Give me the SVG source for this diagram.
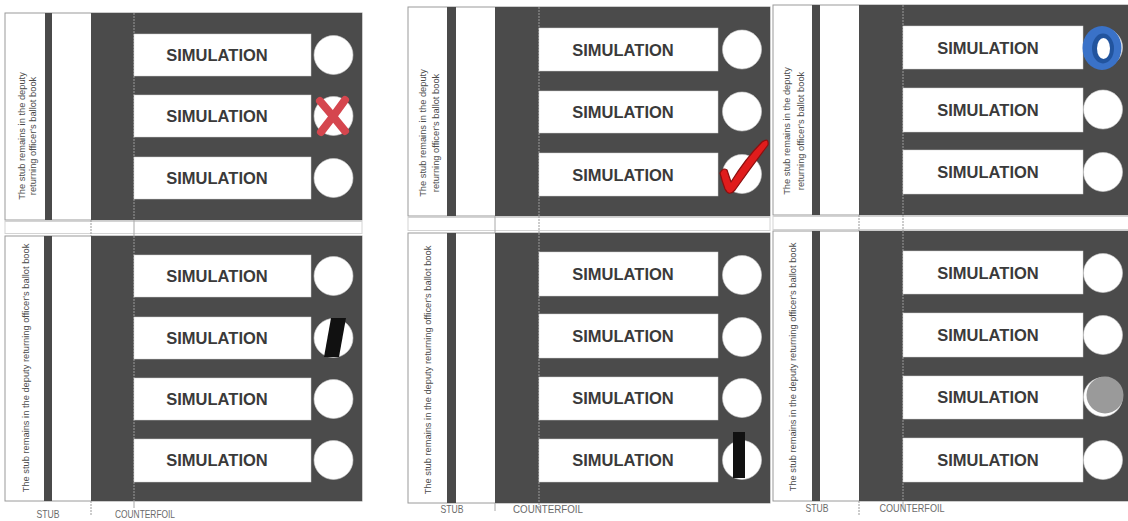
<svg xmlns="http://www.w3.org/2000/svg" width="1128" height="521" viewBox="0 0 1128 521">
<style>
.bg{fill:#ffffff}
.frame{fill:#ffffff;stroke:#9a9a9a;stroke-width:1}
.stripe{fill:#4a4a4a}
.dark{fill:#4b4b4b}
.box{fill:#ffffff;stroke:#d0d0d0;stroke-width:0.5}
.circ{fill:#ffffff;stroke:#cfcfcf;stroke-width:0.6}
.sim{font-family:"Liberation Sans",Arial,sans-serif;font-weight:bold;font-size:16.5px;fill:#3a3a3a;text-anchor:middle}
.stubtxt{font-family:"Liberation Sans",Arial,sans-serif;font-size:9.3px;fill:#4a4a4a;text-anchor:middle}
.lbl{font-family:"Liberation Sans Narrow","Liberation Sans",Arial,sans-serif;font-size:11px;fill:#6a6a6a;text-anchor:middle}
.dash{stroke:#9a9a9a;stroke-width:1;stroke-dasharray:2 1;fill:none}
.sep{stroke:#a8a8a8;stroke-width:1;fill:none}
.gap{fill:#ffffff;stroke:#d4d4d4;stroke-width:1}
</style>
<rect class="bg" x="0" y="0" width="1128" height="521"/>

<!-- ===== LEFT PANEL ===== -->
<g id="left-top">
  <rect class="frame" x="5" y="13" width="357" height="207"/>
  <rect class="stripe" x="45" y="13" width="7" height="207"/>
  <rect class="dark" x="91" y="13" width="271" height="207"/>
  <line class="dash" x1="134" y1="13" x2="134" y2="220" stroke="#8a8a8a"/>
  <text class="stubtxt" transform="translate(24.5,136) rotate(-90)">The stub remains in the deputy</text>
  <text class="stubtxt" transform="translate(35.5,136) rotate(-90)">returning officer's ballot book</text>
  <rect class="box" x="134" y="34" width="177" height="42"/>
  <rect class="box" x="134" y="95" width="177" height="42"/>
  <rect class="box" x="134" y="157" width="177" height="42"/>
  <text class="sim" x="217" y="61">SIMULATION</text>
  <text class="sim" x="217" y="122">SIMULATION</text>
  <text class="sim" x="217" y="184">SIMULATION</text>
  <circle class="circ" cx="333.5" cy="55" r="19.5"/>
  <circle class="circ" cx="333.5" cy="116" r="19.5"/>
  <circle class="circ" cx="333.5" cy="178" r="19.5"/>
  <g id="mark-x" stroke="#d5464e" stroke-width="8" stroke-linecap="round" fill="none">
    <path d="M320 101 Q333 116 345 131"/>
    <path d="M345 100 Q333 117 321 132"/>
  </g>
</g>
<g id="left-gap">
  <rect class="gap" x="5" y="221.5" width="357" height="12"/>
  <line class="dash" x1="91" y1="220" x2="91" y2="236" stroke="#777"/>
  <line class="sep" x1="134" y1="220" x2="134" y2="236"/>
</g>
<g id="left-bottom">
  <rect class="frame" x="5" y="236" width="357" height="265"/>
  <rect class="stripe" x="44" y="236" width="8" height="265"/>
  <rect class="dark" x="91" y="236" width="271" height="265"/>
  <line class="dash" x1="134" y1="236" x2="134" y2="501" stroke="#8a8a8a"/>
  <text class="stubtxt" transform="translate(28.5,368) rotate(-90)" font-size="9.6">The stub remains in the deputy returning officer's ballot book</text>
  <rect class="box" x="134" y="255" width="177" height="42"/>
  <rect class="box" x="134" y="317" width="177" height="42"/>
  <rect class="box" x="134" y="378" width="177" height="42"/>
  <rect class="box" x="134" y="439" width="177" height="43"/>
  <text class="sim" x="217" y="282">SIMULATION</text>
  <text class="sim" x="217" y="344">SIMULATION</text>
  <text class="sim" x="217" y="405">SIMULATION</text>
  <text class="sim" x="217" y="466">SIMULATION</text>
  <circle class="circ" cx="333.5" cy="276" r="19.5"/>
  <circle class="circ" cx="333.5" cy="338" r="19.5"/>
  <circle class="circ" cx="333.5" cy="399" r="19.5"/>
  <circle class="circ" cx="333.5" cy="460" r="19.5"/>
  <polygon id="mark-slash" points="331,318 346,318 339,357 324,357" fill="#111"/>
</g>
<g id="left-labels">
  <text class="lbl" x="48" y="518" textLength="23" lengthAdjust="spacingAndGlyphs">STUB</text>
  <text class="lbl" x="145" y="518" textLength="60" lengthAdjust="spacingAndGlyphs">COUNTERFOIL</text>
  <line class="dash" x1="91" y1="501" x2="91" y2="516" stroke="#666"/>
  <line class="sep" x1="134" y1="501" x2="134" y2="508"/>
</g>

<!-- ===== MIDDLE PANEL ===== -->
<g id="middle-top">
  <rect class="frame" x="408" y="7" width="362" height="209"/>
  <rect class="stripe" x="447" y="7" width="9" height="209"/>
  <rect class="dark" x="495" y="7" width="275" height="209"/>
  <line class="dash" x1="539" y1="7" x2="539" y2="216" stroke="#8a8a8a"/>
  <text class="stubtxt" transform="translate(426,133) rotate(-90)">The stub remains in the deputy</text>
  <text class="stubtxt" transform="translate(439,133) rotate(-90)">returning officer's ballot book</text>
  <rect class="box" x="539" y="28" width="179" height="43"/>
  <rect class="box" x="539" y="91" width="179" height="42"/>
  <rect class="box" x="539" y="153" width="179" height="43"/>
  <text class="sim" x="623" y="56">SIMULATION</text>
  <text class="sim" x="623" y="118">SIMULATION</text>
  <text class="sim" x="623" y="181">SIMULATION</text>
  <circle class="circ" cx="742" cy="49.5" r="19.5"/>
  <circle class="circ" cx="742" cy="111.5" r="19.5"/>
  <circle class="circ" cx="742" cy="174" r="19.5"/>
  <path id="mark-check" d="M720 173 Q723 167 727 170 Q729 176 731 182 Q746 158 762 142 Q769 137 768 145 Q752 166 735 190 Q729 197 725 189 Q722 181 720 173 Z" fill="#e01c1c" stroke="#8c0f0f" stroke-width="1.2" stroke-linejoin="round"/>
</g>
<g id="middle-gap">
  <rect class="gap" x="408" y="217.5" width="362" height="13"/>
  <line class="sep" x1="495" y1="216" x2="495" y2="233"/>
  <line class="dash" x1="539" y1="216" x2="539" y2="233" stroke="#555"/>
</g>
<g id="middle-bottom">
  <rect class="frame" x="408" y="233" width="362" height="270"/>
  <rect class="stripe" x="447" y="233" width="9" height="270"/>
  <rect class="dark" x="495" y="233" width="275" height="270"/>
  <line class="dash" x1="539" y1="233" x2="539" y2="503" stroke="#8a8a8a"/>
  <text class="stubtxt" transform="translate(430.5,370) rotate(-90)" font-size="9.6">The stub remains in the deputy returning officer's ballot book</text>
  <rect class="box" x="539" y="252" width="179" height="44"/>
  <rect class="box" x="539" y="314" width="179" height="44"/>
  <rect class="box" x="539" y="377" width="179" height="43"/>
  <rect class="box" x="539" y="439" width="179" height="43"/>
  <text class="sim" x="623" y="280">SIMULATION</text>
  <text class="sim" x="623" y="342">SIMULATION</text>
  <text class="sim" x="623" y="404">SIMULATION</text>
  <text class="sim" x="623" y="466">SIMULATION</text>
  <circle class="circ" cx="742" cy="275" r="19.5"/>
  <circle class="circ" cx="742" cy="337" r="19.5"/>
  <circle class="circ" cx="742" cy="398" r="19.5"/>
  <circle class="circ" cx="742" cy="460" r="19.5"/>
  <rect id="mark-bar" x="733" y="432" width="12" height="46" fill="#111"/>
</g>
<g id="middle-labels">
  <text class="lbl" x="452" y="513" textLength="23" lengthAdjust="spacingAndGlyphs">STUB</text>
  <text class="lbl" x="548" y="513" textLength="70" lengthAdjust="spacingAndGlyphs">COUNTERFOIL</text>
  <line class="sep" x1="495" y1="503" x2="495" y2="511"/>
  <line class="dash" x1="539" y1="503" x2="539" y2="510" stroke="#555"/>
</g>

<!-- ===== RIGHT PANEL ===== -->
<g id="right-top">
  <rect class="frame" x="773" y="5" width="360" height="210"/>
  <rect class="stripe" x="812" y="5" width="8" height="210"/>
  <rect class="dark" x="859" y="5" width="270" height="210"/>
  <line class="dash" x1="903" y1="5" x2="903" y2="215" stroke="#8a8a8a"/>
  <text class="stubtxt" transform="translate(790,131) rotate(-90)">The stub remains in the deputy</text>
  <text class="stubtxt" transform="translate(804,131) rotate(-90)">returning officer's ballot book</text>
  <rect class="box" x="903" y="26" width="180" height="43"/>
  <rect class="box" x="903" y="88" width="180" height="44"/>
  <rect class="box" x="903" y="150" width="180" height="44"/>
  <text class="sim" x="988" y="54">SIMULATION</text>
  <text class="sim" x="988" y="116">SIMULATION</text>
  <text class="sim" x="988" y="178">SIMULATION</text>
  <circle class="circ" cx="1103" cy="47.5" r="19.5"/>
  <circle class="circ" cx="1103" cy="109.5" r="19.5"/>
  <circle class="circ" cx="1103" cy="172" r="19.5"/>
  <g id="mark-ring">
    <ellipse cx="1102" cy="48" rx="19.5" ry="22" fill="#3a72c8"/>
    <ellipse cx="1103" cy="48.5" rx="11" ry="15" fill="#22549e"/>
    <ellipse cx="1103.5" cy="48.5" rx="6.5" ry="10.5" fill="#ffffff"/>
  </g>
</g>
<g id="right-gap">
  <rect class="gap" x="773" y="216.5" width="360" height="13"/>
  <line class="dash" x1="859" y1="215" x2="859" y2="231" stroke="#555"/>
  <line class="dash" x1="903" y1="215" x2="903" y2="231" stroke="#888"/>
</g>
<g id="right-bottom">
  <rect class="frame" x="773" y="231" width="360" height="270"/>
  <rect class="stripe" x="812" y="231" width="8" height="270"/>
  <rect class="dark" x="859" y="231" width="270" height="270"/>
  <line class="dash" x1="903" y1="231" x2="903" y2="501" stroke="#8a8a8a"/>
  <text class="stubtxt" transform="translate(795.5,367) rotate(-90)" font-size="9.7">The stub remains in the deputy returning officer's ballot book</text>
  <rect class="box" x="903" y="251" width="180" height="43"/>
  <rect class="box" x="903" y="313" width="180" height="44"/>
  <rect class="box" x="903" y="376" width="180" height="43"/>
  <rect class="box" x="903" y="438" width="180" height="44"/>
  <text class="sim" x="988" y="279">SIMULATION</text>
  <text class="sim" x="988" y="341">SIMULATION</text>
  <text class="sim" x="988" y="403">SIMULATION</text>
  <text class="sim" x="988" y="466">SIMULATION</text>
  <circle class="circ" cx="1103" cy="273" r="19.5"/>
  <circle class="circ" cx="1103" cy="335" r="19.5"/>
  <circle class="circ" cx="1103" cy="397" r="19.5"/>
  <circle class="circ" cx="1103" cy="460" r="19.5"/>
  <circle id="mark-fill" cx="1105" cy="395" r="18.5" fill="#9a9a9a"/>
</g>
<g id="right-labels">
  <text class="lbl" x="817" y="512" textLength="23" lengthAdjust="spacingAndGlyphs">STUB</text>
  <text class="lbl" x="912" y="512" textLength="65" lengthAdjust="spacingAndGlyphs">COUNTERFOIL</text>
  <line class="dash" x1="859" y1="501" x2="859" y2="515" stroke="#555"/>
  <line class="sep" x1="903" y1="501" x2="903" y2="509"/>
</g>
<g id="connectors"></g>
</svg>
